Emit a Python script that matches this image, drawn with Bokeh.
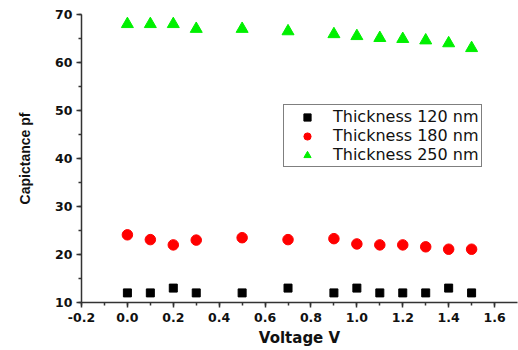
from bokeh.plotting import figure
from bokeh.models import Range1d, SingleIntervalTicker, PrintfTickFormatter, Legend, LegendItem
from bokeh.embed import file_html
from bokeh.resources import INLINE

voltage = [0.0, 0.1, 0.2, 0.3, 0.5, 0.7, 0.9, 1.0, 1.1, 1.2, 1.3, 1.4, 1.5]
cap_120 = [12, 12, 13, 12, 12, 13, 12, 13, 12, 12, 12, 13, 12]
cap_180 = [24.1, 23.1, 22.0, 23.0, 23.5, 23.1, 23.3, 22.2, 22.0, 22.0, 21.6, 21.1, 21.1]
cap_250 = [68.0, 68.0, 68.0, 67.0, 67.0, 66.5, 65.9, 65.5, 65.1, 64.9, 64.6, 64.0, 63.0]
labels = ["Thickness 120 nm", "Thickness 180 nm", "Thickness 250 nm"]

p = figure(width=518, height=350, output_backend="svg", toolbar_location=None,
           x_range=Range1d(-0.2, 1.7), y_range=Range1d(10, 70),
           min_border_left=81, min_border_right=1, min_border_top=14, min_border_bottom=48)
p.outline_line_color = None
p.grid.visible = False
p.background_fill_color = "white"
p.border_fill_color = "white"

r1 = p.scatter(voltage, cap_120, marker="square", size=8, color="#000000")
r2 = p.scatter(voltage, cap_180, marker="circle", size=10.5, color="#ff0000")
r3 = p.scatter(voltage, cap_250, marker="triangle", size=12, color="#00f000")

p.xaxis.ticker = SingleIntervalTicker(interval=0.2, num_minor_ticks=2)
p.xaxis.formatter = PrintfTickFormatter(format="%.1f")
p.yaxis.ticker = SingleIntervalTicker(interval=10, num_minor_ticks=2)

for ax in (p.xaxis[0], p.yaxis[0]):
    ax.axis_line_color = "#333333"
    ax.axis_line_width = 1.5
    ax.major_tick_line_color = "#333333"
    ax.major_tick_line_width = 1.5
    ax.minor_tick_line_color = "#333333"
    ax.minor_tick_line_width = 1.5
    ax.major_tick_in = 0
    ax.major_tick_out = 5
    ax.minor_tick_in = 0
    ax.minor_tick_out = 3
    ax.major_label_text_font = "DejaVu Sans"
    ax.major_label_text_font_style = "bold"
    ax.major_label_text_font_size = "12.5px"
    ax.major_label_text_color = "#111111"
    ax.axis_label_text_font_style = "bold"
    ax.axis_label_text_color = "#111111"

p.xaxis.major_label_standoff = 5
p.yaxis.major_label_standoff = 4
p.xaxis.axis_label = "Voltage V"
p.xaxis.axis_label_text_font = "DejaVu Sans"
p.xaxis.axis_label_text_font_size = "15px"
p.xaxis.axis_label_standoff = 4
p.yaxis.axis_label = "Capictance pf"
p.yaxis.axis_label_text_font = "Liberation Sans"
p.yaxis.axis_label_text_font_size = "14px"
p.yaxis.axis_label_standoff = 19

legend = Legend(items=[LegendItem(label=labels[0], renderers=[r1]),
                       LegendItem(label=labels[1], renderers=[r2]),
                       LegendItem(label=labels[2], renderers=[r3])],
                location=(202, 135))
legend.label_text_font = "DejaVu Sans"
legend.label_text_font_size = "16px"
legend.label_text_color = "#111111"
legend.border_line_color = "#000000"
legend.border_line_width = 1
legend.background_fill_color = "white"
legend.padding = 2
legend.spacing = 0
legend.glyph_width = 42
legend.glyph_height = 18
legend.label_height = 18
legend.label_standoff = 5
legend.margin = 0
p.add_layout(legend)

open("out.html", "w").write(file_html(p, INLINE))
